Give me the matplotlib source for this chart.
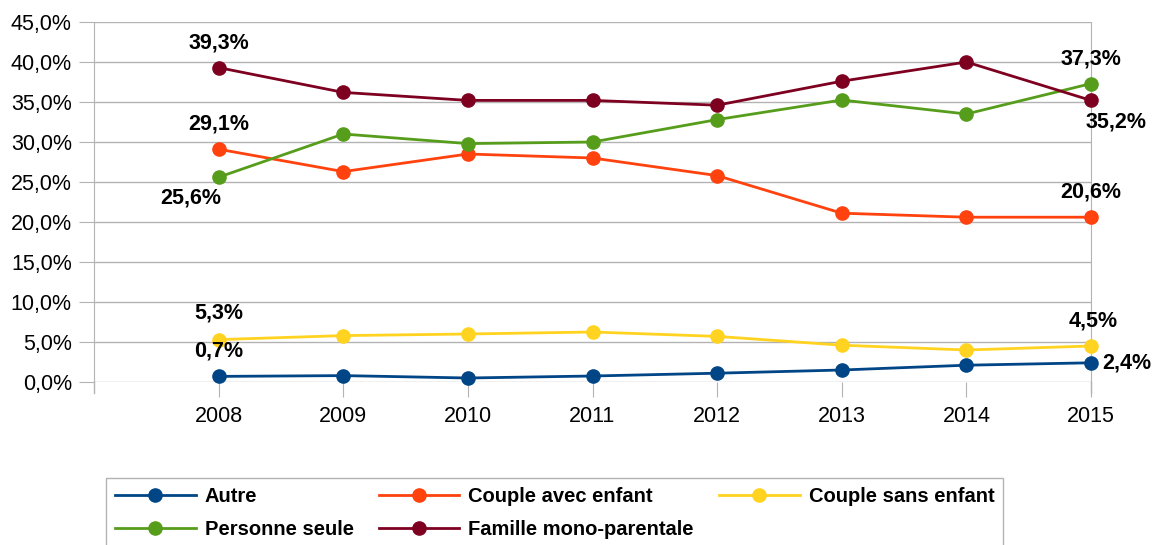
import matplotlib
matplotlib.use("Agg")
import matplotlib.pyplot as plt
from matplotlib.ticker import FuncFormatter

plt.rcParams['font.family'] = ['Liberation Sans', 'DejaVu Sans']

years = ["2008", "2009", "2010", "2011", "2012", "2013", "2014", "2015"]

autre = [0.7, 0.8, 0.5, 0.75, 1.1, 1.5, 2.1, 2.4]
couple_avec = [29.1, 26.3, 28.5, 28.0, 25.8, 21.1, 20.6, 20.6]
couple_sans = [5.3, 5.8, 6.0, 6.25, 5.7, 4.6, 4.0, 4.5]
personne_seule = [25.6, 31.0, 29.8, 30.0, 32.8, 35.25, 33.5, 37.3]
famille_mono = [39.3, 36.2, 35.2, 35.2, 34.6, 37.6, 40.0, 35.2]

names = ["Autre", "Couple avec enfant", "Couple sans enfant",
         "Personne seule", "Famille mono-parentale"]
colors = ["#004586", "#ff420e", "#ffd320", "#579d1c", "#7e0021"]
series = [autre, couple_avec, couple_sans, personne_seule, famille_mono]

# labels shown on first / last points: (series index, point index, offset px, ha)
labels = [
    (4, 0, (0, 25), "center"),
    (1, 0, (0, 25), "center"),
    (3, 0, (-28, -21), "center"),
    (2, 0, (0, 27), "center"),
    (0, 0, (0, 25), "center"),
    (3, 7, (0, 25), "center"),
    (4, 7, (25, -22), "center"),
    (1, 7, (0, 25), "center"),
    (2, 7, (2, 25), "center"),
    (0, 7, (11, 0), "left"),
]

fs = 15.5

fig = plt.figure(figsize=(11.52, 5.45), dpi=100)
ax = fig.add_axes([94 / 1152, 1 - 382 / 545, (1091 - 94) / 1152, 360 / 545])

x = list(range(len(years)))
lines = []
for name, col, vals in zip(names, colors, series):
    l, = ax.plot(x, vals, color=col, lw=2.0, marker="o", markersize=9.5,
                 label=name, clip_on=False, zorder=3)
    lines.append(l)

for si, pi, off, ha in labels:
    v = series[si][pi]
    ax.annotate(("%.1f%%" % v).replace(".", ","), (x[pi], v), xytext=off,
                textcoords="offset pixels", ha=ha, va="center",
                fontsize=fs, fontweight="bold", color="black", zorder=5)

ax.set_xlim(-1, 7)
ax.set_ylim(0, 45)
ax.set_yticks(range(0, 46, 5))
ax.yaxis.set_major_formatter(FuncFormatter(lambda v, p: ("%.1f%%" % v).replace(".", ",")))
ax.set_xticks(x)
ax.set_xticklabels(years)
ax.grid(axis="y", color="#b3b3b3", lw=1)
ax.set_axisbelow(True)
for s in ["top", "bottom"]:
    ax.spines[s].set_visible(False)
for s in ["left", "right"]:
    ax.spines[s].set_color("#b3b3b3")
    ax.spines[s].set_bounds(0, 45)
ax.tick_params(axis="y", length=11, color="#b3b3b3", labelsize=fs, pad=5)
ax.tick_params(axis="x", length=11, color="#b3b3b3", labelsize=fs, pad=6)
ax.axvline(-1, ymin=-11 / 360, ymax=0, color="#b3b3b3", lw=1, clip_on=False)
ax.axvline(7, ymin=-11 / 360, ymax=0, color="#b3b3b3", lw=1, clip_on=False)

order = [0, 3, 1, 4, 2]
leg = fig.legend([lines[i] for i in order], [names[i] for i in order],
                 loc="upper left", bbox_to_anchor=(106 / 1152, 1 - 478 / 545),
                 borderaxespad=0, ncol=3, fancybox=False, edgecolor="#b3b3b3",
                 framealpha=1, prop={"size": 14.5, "weight": "bold"},
                 handlelength=4, columnspacing=1.25, labelspacing=0.7,
                 borderpad=0.45, handletextpad=0.45)
leg.get_frame().set_linewidth(1)

fig.savefig("out.png", dpi=100)
